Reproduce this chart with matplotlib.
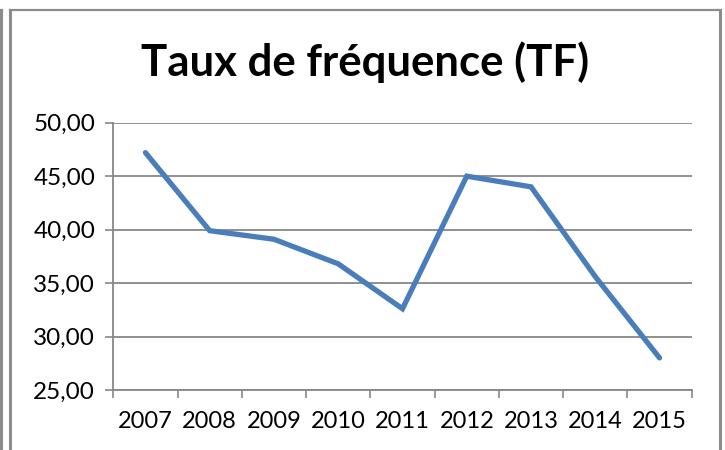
import matplotlib
matplotlib.use('Agg')
import matplotlib.pyplot as plt
from matplotlib.lines import Line2D
from matplotlib.ticker import FuncFormatter, FixedLocator

# data
years = ['2007', '2008', '2009', '2010', '2011', '2012', '2013', '2014', '2015']
tf_values = [47.2, 39.9, 39.1, 36.8, 32.6, 45.0, 44.0, 35.6, 28.0]
y_ticks = [25, 30, 35, 40, 45, 50]

plt.rcParams['font.family'] = ['Lato', 'DejaVu Sans']

W, H = 725, 450
fig = plt.figure(figsize=(W / 100, H / 100), dpi=100)
ax = fig.add_axes([113.3 / W, 1 - 390 / H, (691.7 - 113.3) / W, (390 - 122.7) / H])

grey = '#878787'
x = list(range(len(years)))
ax.plot(x, tf_values, color='#4A7EBB', linewidth=3.8, solid_capstyle='round',
        solid_joinstyle='miter', zorder=3)

ax.set_xlim(-0.5, len(years) - 0.5)
ax.set_ylim(25, 50)

# category axis: ticks between categories, labels at centres
ax.xaxis.set_major_locator(FixedLocator([i - 0.5 for i in range(len(years) + 1)]))
ax.xaxis.set_minor_locator(FixedLocator(x))
ax.set_xticklabels([], minor=False)
ax.set_xticklabels(years, minor=True)
ax.tick_params(axis='x', which='major', length=6, width=1.2, color=grey, direction='out')
ax.tick_params(axis='x', which='minor', length=0, pad=15, labelsize=17)

ax.set_yticks(y_ticks)
ax.yaxis.set_major_formatter(FuncFormatter(lambda v, p: f'{v:.2f}'.replace('.', ',')))
ax.tick_params(axis='y', length=6, width=1.2, color=grey, direction='out', pad=7, labelsize=17.5)

ax.grid(axis='y', color=grey, linewidth=1.3)
ax.set_axisbelow(True)
for side in ['top', 'right']:
    ax.spines[side].set_visible(False)
for side in ['left', 'bottom']:
    ax.spines[side].set_color(grey)
    ax.spines[side].set_linewidth(1.3)

fig.text(365 / W, 1 - 62 / H, 'Taux de fréquence (TF)', ha='center', va='center',
         fontsize=31.5, fontweight='bold')

# chart frame (Excel style)
fc = '#8c8c8c'
fig.add_artist(Line2D([10 / W, 10 / W], [0, 1 - 10 / H], color=fc, linewidth=2.2))
fig.add_artist(Line2D([10 / W, 720 / W], [1 - 10 / H, 1 - 10 / H], color=fc, linewidth=1.6))
fig.add_artist(Line2D([720 / W, 720 / W], [0, 1 - 10 / H], color=fc, linewidth=2.2))
fig.add_artist(Line2D([1 / W, 1 / W], [0, 1 - 10 / H], color=fc, linewidth=2.2))
fig.add_artist(Line2D([0, 2 / W], [1 - 10 / H, 1 - 10 / H], color=fc, linewidth=1.6))

fig.savefig('out.png', dpi=100)
